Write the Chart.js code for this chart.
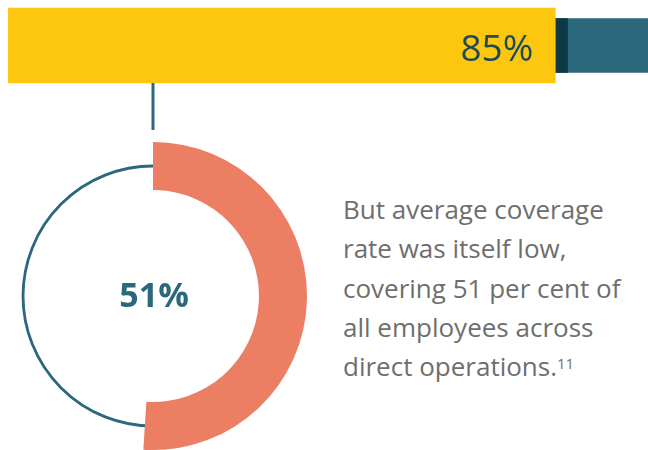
<!DOCTYPE html>
<html>
<head>
<meta charset="utf-8">
<script src="https://cdn.jsdelivr.net/npm/chart.js@4.4.1/dist/chart.umd.min.js"></script>
<style>
  html, body { margin: 0; padding: 0; background: #fff; }
  body { width: 648px; height: 450px; position: relative; overflow: hidden; font-family: "Open Sans", sans-serif; }
  #barChart { position: absolute; left: 0; top: 0; }
  #donutChart { position: absolute; left: -1px; top: 83px; }
  .note {
    position: absolute; left: 343px; top: 190px; width: 305px;
    font-size: 26px; line-height: 39.3px; color: #6e6e6e; font-weight: 400;
    white-space: nowrap;
  }
  .note sup { font-size: 15px; line-height: 0; vertical-align: baseline; position: relative; top: -7px; }
</style>
</head>
<body>
<canvas id="barChart" width="648" height="91"></canvas>
<canvas id="donutChart" width="308" height="367"></canvas>
<div class="note">But average coverage<br>rate was itself low,<br>covering 51 per cent of<br>all employees across<br>direct operations.<sup>11</sup></div>

<script>
// values
const categories = ['Companies'];
const shareCovered = [85];        // % shown on the yellow bar
const averageCoverage = [51];     // % shown in the ring
const total = 100;

const yellow = '#fdc60f';
const teal = '#2b687b';
const darkTeal = '#0d3a44';
const orange = '#ec7f63';

// label drawn at the right end of the first bar
const barLabel = {
  id: 'barLabel',
  afterDatasetsDraw(chart) {
    const bar = chart.getDatasetMeta(0).data[0];
    const ctx = chart.ctx;
    ctx.save();
    ctx.font = '400 37px "Open Sans"';
    ctx.fillStyle = '#1d4a57';
    ctx.textAlign = 'right';
    ctx.textBaseline = 'alphabetic';
    ctx.fillText(shareCovered[0] + '%', bar.x - 22, bar.y + 15);
    ctx.restore();
  }
};

new Chart(document.getElementById('barChart'), {
  type: 'bar',
  data: {
    labels: categories,
    datasets: [
      { data: shareCovered, backgroundColor: yellow, barThickness: 75, grouped: false },
      { data: shareCovered.map(v => [v, v + 1.9]), backgroundColor: darkTeal, barThickness: 54, grouped: false },
      { data: shareCovered.map(v => [v, total]), backgroundColor: teal, barThickness: 54, grouped: false }
    ]
  },
  options: {
    indexAxis: 'y',
    responsive: false,
    animation: false,
    devicePixelRatio: 1,
    layout: { padding: { left: 8, right: 0, top: 0, bottom: 0 } },
    scales: {
      x: { display: false, min: 0, max: 99.4 },
      y: { display: false }
    },
    plugins: { legend: { display: false }, tooltip: { enabled: false } }
  },
  plugins: [barLabel]
});

// thin full ring + connector under the arc, value in the middle
const ringDecor = {
  id: 'ringDecor',
  beforeDatasetsDraw(chart) {
    const arc = chart.getDatasetMeta(0).data[0];
    const ctx = chart.ctx;
    const r = (arc.innerRadius + arc.outerRadius) / 2;
    ctx.save();
    ctx.strokeStyle = teal;
    ctx.lineWidth = 2.8;
    ctx.beginPath();
    ctx.arc(arc.x, arc.y, r, 0, Math.PI * 2);
    ctx.stroke();
    ctx.lineWidth = 3;
    ctx.beginPath();
    ctx.moveTo(arc.x, 0);
    ctx.lineTo(arc.x, arc.y - arc.outerRadius - 12);
    ctx.stroke();
    ctx.restore();
  },
  afterDatasetsDraw(chart) {
    const arc = chart.getDatasetMeta(0).data[0];
    const ctx = chart.ctx;
    ctx.save();
    ctx.font = 'bold 34px "Open Sans"';
    ctx.fillStyle = teal;
    ctx.textAlign = 'center';
    ctx.textBaseline = 'alphabetic';
    ctx.fillText(averageCoverage[0] + '%', arc.x + 1, arc.y + 11);
    ctx.restore();
  }
};

new Chart(document.getElementById('donutChart'), {
  type: 'doughnut',
  data: {
    labels: ['Covered', 'Not covered'],
    datasets: [{
      data: [averageCoverage[0], total - averageCoverage[0]],
      backgroundColor: [orange, 'rgba(0,0,0,0)'],
      borderWidth: 0
    }]
  },
  options: {
    responsive: false,
    animation: false,
    devicePixelRatio: 1,
    cutout: '68.8%',
    rotation: 0,
    layout: { padding: { top: 59, bottom: 0, left: 0, right: 0 } },
    plugins: { legend: { display: false }, tooltip: { enabled: false } }
  },
  plugins: [ringDecor]
});
</script>
</body>
</html>
